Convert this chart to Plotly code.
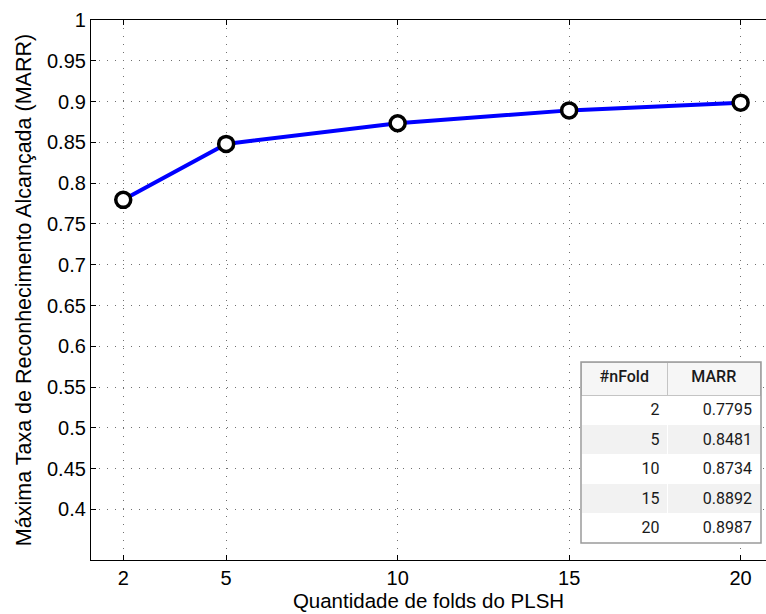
import plotly.graph_objects as go

# PLSH fold counts and the maximum recognition rate reached (MARR)
folds = [2, 5, 10, 15, 20]
marr = [0.7795, 0.8481, 0.8734, 0.8892, 0.8987]

x_ticks = [2, 5, 10, 15, 20]
y_ticks = [0.4, 0.45, 0.5, 0.55, 0.6, 0.65, 0.7, 0.75, 0.8, 0.85, 0.9, 0.95, 1.0]
y_tick_text = ["0.4", "0.45", "0.5", "0.55", "0.6", "0.65", "0.7", "0.75",
               "0.8", "0.85", "0.9", "0.95", "1"]

table_header = ["#nFold", "MARR"]

W, H = 766, 614
ML, MR, MT, MB = 91, 0, 20, 54
PW, PH = W - ML - MR, H - MT - MB

fig = go.Figure()

fig.add_trace(go.Scatter(
    x=folds, y=marr, mode="lines+markers",
    line=dict(color="#0000ff", width=4),
    marker=dict(symbol="circle", size=15, color="white",
                line=dict(color="black", width=3.5)),
    showlegend=False, cliponaxis=False,
))

# inset table of the plotted values (pixel box -> plot-area fractions)
tx0, tx1, ty0, ty1 = 581, 761, 362, 543
dom_x = [(tx0 - ML) / PW, (tx1 - ML) / PW]
dom_y = [(H - MB - ty1) / PH, (H - MB - ty0) / PH]
row_fill = ["white" if i % 2 == 0 else "#f2f2f2" for i in range(len(folds))]
table_font = dict(family="Roboto, DejaVu Sans, sans-serif", size=16, color="#1a1a1a")
fig.add_trace(go.Table(
    domain=dict(x=dom_x, y=dom_y),
    columnwidth=[87, 93],
    header=dict(
        values=table_header,
        align="center",
        height=33,
        fill_color="#f6f6f6",
        line=dict(color="#c4c4c4", width=1),
        font=dict(table_font, weight=500),
    ),
    cells=dict(
        values=[[str(f) for f in folds], [f"{v:.4f}" for v in marr]],
        align="right",
        height=29.6,
        fill_color=[row_fill, row_fill],
        line=dict(color="white", width=1),
        font=table_font,
    ),
))

fig.add_shape(type="rect", xref="paper", yref="paper",
              x0=dom_x[0], x1=dom_x[1], y0=dom_y[0], y1=dom_y[1],
              line=dict(color="#9a9a9a", width=1.5), fillcolor="rgba(0,0,0,0)")

font = dict(family="Liberation Sans, Arial, sans-serif", size=20, color="black")
x_title_font = dict(family="Liberation Sans, Arial, sans-serif", size=20.5, color="black")
y_title_font = dict(family="Liberation Sans, Arial, sans-serif", size=21.5, color="black")

fig.update_layout(
    width=W, height=H,
    margin=dict(l=ML, r=MR, t=MT, b=MB, pad=0),
    paper_bgcolor="white", plot_bgcolor="white",
    font=font,
    xaxis=dict(
        range=[1.06, 20.74], tickvals=x_ticks, ticktext=[str(v) for v in x_ticks],
        showline=True, linecolor="black", linewidth=1.2, mirror="ticks",
        ticks="inside", ticklen=5, tickcolor="black", tickwidth=1,
        showgrid=True, gridcolor="#707070", gridwidth=1, griddash="1px,7px",
        zeroline=False, tickfont=font,
        title=dict(text="Quantidade de folds do PLSH", font=x_title_font, standoff=3),
    ),
    yaxis=dict(
        range=[0.338, 1.0], tickvals=y_ticks, ticktext=y_tick_text,
        showline=True, linecolor="black", linewidth=1.2,
        ticks="inside", ticklen=5, tickcolor="black", tickwidth=1,
        showgrid=True, gridcolor="#707070", gridwidth=1, griddash="1px,7px",
        zeroline=False, tickfont=font,
        title=dict(text="Máxima Taxa de Reconhecimento Alcançada (MARR)",
                   font=y_title_font, standoff=9),
    ),
)

fig.write_html("out.html")
